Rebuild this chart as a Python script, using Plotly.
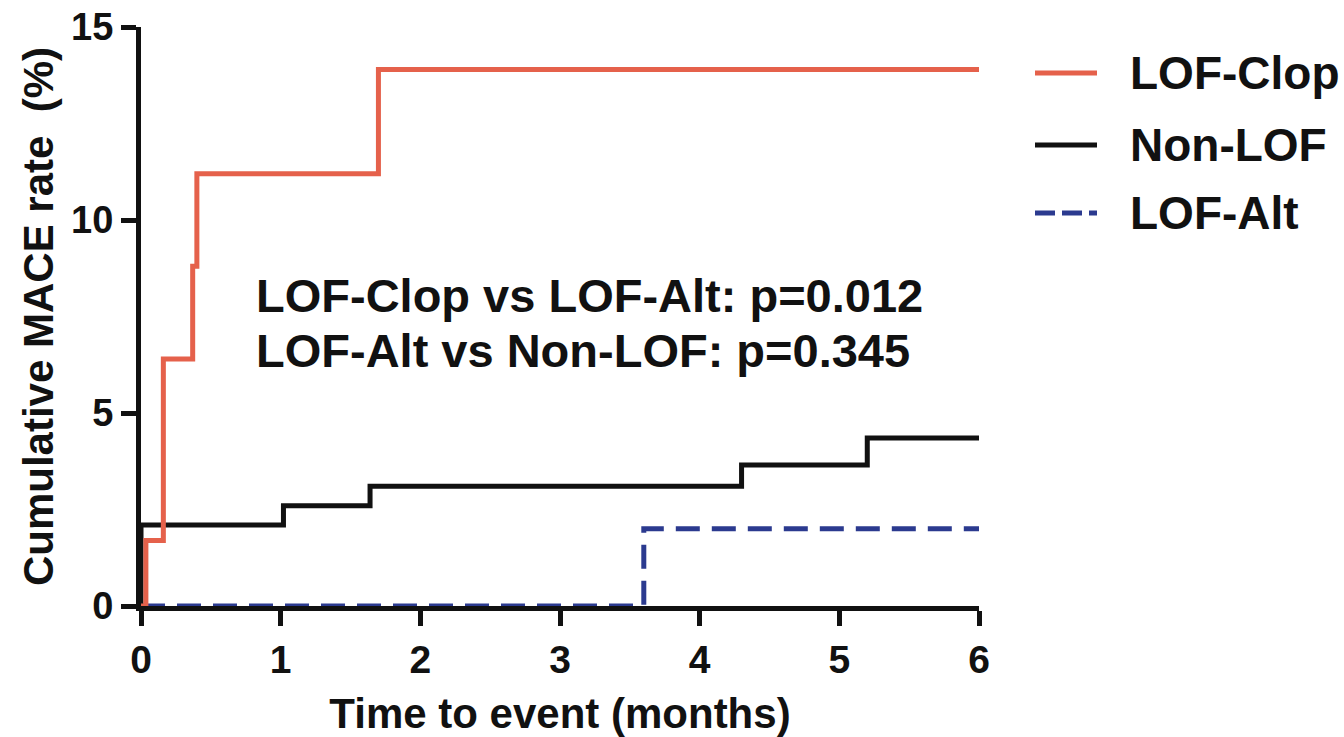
import plotly.graph_objects as go

# ---- data ----
clop_t = [0, 0.035, 0.16, 0.37, 0.40, 1.70, 6.0]
clop_y = [0, 1.7, 6.4, 8.8, 11.2, 13.9, 13.9]
non_t = [0, 0.0, 1.02, 1.64, 4.30, 5.20, 6.0]
non_y = [0, 2.1, 2.6, 3.1, 3.65, 4.35, 4.35]
alt_t = [0, 3.60, 6.0]
alt_y = [0, 2.0, 2.0]

series_names = ["LOF-Clop", "Non-LOF", "LOF-Alt"]
series_colors = ["#E5614B", "#111111", "#2B3A8F"]
series_dash = ["solid", "solid", "24px,12px"]

x_ticks = [0, 1, 2, 3, 4, 5, 6]
y_ticks = [0, 5, 10, 15]
annot_lines = ["LOF-Clop vs LOF-Alt: p=0.012", "LOF-Alt vs Non-LOF: p=0.345"]

FONT = "Liberation Sans, Arial, sans-serif"

fig = go.Figure()
for t, y, i in [(alt_t, alt_y, 2), (non_t, non_y, 1), (clop_t, clop_y, 0)]:
    fig.add_trace(go.Scatter(
        x=t, y=y, mode="lines", line_shape="hv",
        line=dict(color=series_colors[i], width=5, dash=series_dash[i]),
        name=series_names[i], showlegend=False, cliponaxis=False,
        hoverinfo="skip",
    ))

L, R, T, B = 141, 365, 27, 131
W, H = 1344, 737
pw, ph = W - L - R, H - T - B

def px_to_paper(px, py):
    return (px - L) / pw, (H - B - py) / ph

shapes = []
annotations = []
legend_y = [73, 145, 213]
for i, name in enumerate(series_names):
    x0, yy = px_to_paper(1035, legend_y[i])
    x1, _ = px_to_paper(1097, legend_y[i])
    shapes.append(dict(type="line", xref="paper", yref="paper",
                       x0=x0, x1=x1, y0=yy, y1=yy,
                       line=dict(color=series_colors[i], width=5,
                                 dash="20px,7px" if i == 2 else "solid")))
    tx, _ = px_to_paper(1128, legend_y[i])
    annotations.append(dict(xref="paper", yref="paper", x=tx, y=yy,
                            xanchor="left", yanchor="middle", showarrow=False,
                            text="<b>%s</b>" % name,
                            font=dict(family=FONT, size=46, color="#111111")))

for j, line in enumerate(annot_lines):
    ax, ay = px_to_paper(254, [295, 350][j])
    annotations.append(dict(xref="paper", yref="paper", x=ax, y=ay,
                            xanchor="left", yanchor="middle", showarrow=False,
                            text="<b>%s</b>" % line,
                            font=dict(family=FONT, size=47, color="#111111")))

fig.update_layout(
    width=W, height=H,
    margin=dict(l=L, r=R, t=T, b=B),
    paper_bgcolor="white", plot_bgcolor="white",
    font=dict(family=FONT, color="#111111"),
    shapes=shapes, annotations=annotations,
    xaxis=dict(
        range=[0, 6], tickvals=x_ticks, ticktext=["<b>%d</b>" % v for v in x_ticks],
        showgrid=False, zeroline=False, showline=True, linecolor="#111111", linewidth=5,
        ticks="outside", ticklen=15, tickwidth=5, tickcolor="#111111",
        tickfont=dict(family=FONT, size=39, color="#111111"),
        automargin=False,
        title=dict(text="<b>Time to event (months)</b>", standoff=24,
                   font=dict(family=FONT, size=42, color="#111111")),
    ),
    yaxis=dict(
        range=[0, 15], tickvals=y_ticks, ticktext=["<b>%d</b>" % v for v in y_ticks],
        showgrid=False, zeroline=False, showline=True, linecolor="#111111", linewidth=5,
        ticks="outside", ticklen=15, tickwidth=5, tickcolor="#111111",
        tickfont=dict(family=FONT, size=38, color="#111111"),
        automargin=False,
        title=dict(text="<b>Cumulative MACE rate  (%)</b>", standoff=6,
                   font=dict(family=FONT, size=42, color="#111111")),
    ),
)

fig.write_html("out.html")
